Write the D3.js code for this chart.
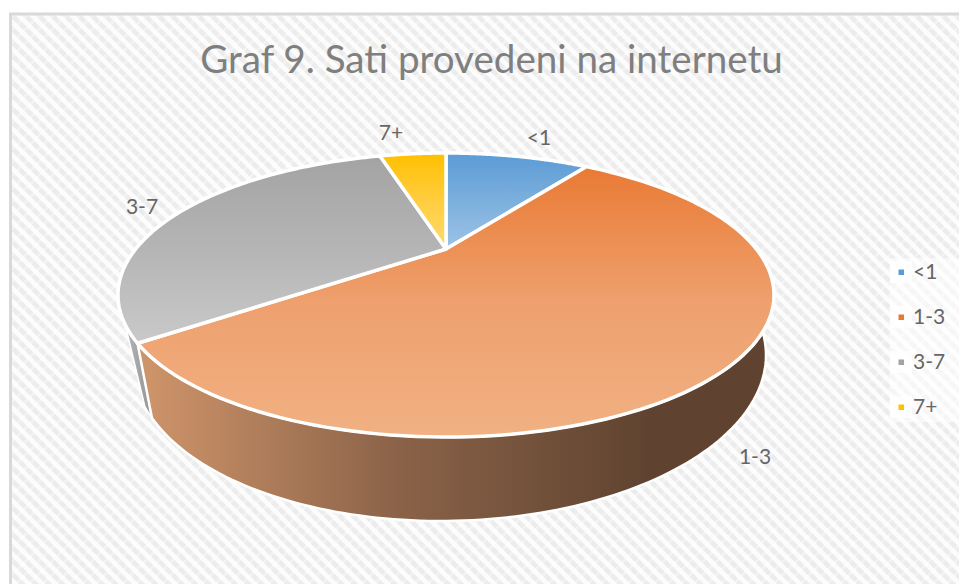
<!DOCTYPE html>
<html>
<head>
<meta charset="utf-8">
<script src="https://d3js.org/d3.v7.min.js"></script>
<style>
  html, body { margin: 0; padding: 0; background: #fff; }
  svg { display: block; }
  text { font-family: Lato, "Open Sans", sans-serif; fill: #666; }
</style>
</head>
<body>
<svg id="Vis" width="959" height="584"></svg>
<script>
const categories = ["<1", "1-3", "3-7", "7+"];
const values = [9.7, 55.1, 30.7, 4.5];
const titleText = "Graf 9. Sati provedeni na internetu";

const topColors = ["#5b9bd5", "#e97a34", "#a3a3a3", "#ffc000"];
const midColors = ["#7cafdd", "#eea06e", "#b5b5b5", "#ffcd40"];
const bottomColors = ["#9dc3e6", "#f1b183", "#c9c9c9", "#ffdb6c"];
const wallStops = ["#cd9369", "#8a6248", "#5f4330"];

const svg = d3.select("svg#Vis");
const defs = svg.append("defs");

/* BACKGROUND */
const hatch = defs.append("pattern")
  .attr("id", "hatch")
  .attr("patternUnits", "userSpaceOnUse")
  .attr("width", 9.4)
  .attr("height", 9.4)
  .attr("patternTransform", "rotate(45)");
hatch.append("rect").attr("width", 9.4).attr("height", 9.4).attr("fill", "#fcfcfc");
hatch.append("rect").attr("width", 9.4).attr("height", 4.7).attr("fill", "#ececec");
hatch.append("rect").attr("width", 2.4).attr("height", 9.4).attr("fill", "#fff").attr("opacity", 0.35);

svg.append("rect")
  .attr("x", 10.5).attr("y", 14)
  .attr("width", 960).attr("height", 600)
  .attr("fill", "url(#hatch)")
  .attr("stroke", "#d9d9d9")
  .attr("stroke-width", 3);

svg.append("text")
  .attr("x", 491.5).attr("y", 73)
  .attr("text-anchor", "middle")
  .attr("font-size", 38.6)
  .style("fill", "#7f7f7f")
  .text(titleText);

/* PIE GEOMETRY: a tilted disc seen in perspective */
const apex = { x: 446, y: 249 };
const persp = 0.324;
const discX = 310.3;
const discY = 127.1;

// rim at the bottom of the side wall
const rim = { x: 450, y: 360, a: 316, b: 161, shear: -0.015 };
const deg = Math.PI / 180;

function project(angle) {
  const w = 1 + persp * Math.cos(angle);
  return [
    apex.x + discX * Math.sin(angle) / w,
    apex.y - discY * Math.cos(angle) / w
  ];
}

function rimPoint(angle) {
  const x = rim.x + rim.a * Math.sin(angle);
  return [x, rim.y - rim.b * Math.cos(angle) + rim.shear * (x - apex.x)];
}

function sample(fn, a0, a1) {
  return d3.range(0, 121).map(i => fn(a0 + (a1 - a0) * i / 120));
}

const slices = d3.pie().sort(null).value(d => d)(values);
const line = d3.line();

/* GRADIENTS */
slices.forEach((s, i) => {
  const g = defs.append("linearGradient")
    .attr("id", "face" + i)
    .attr("x1", 0).attr("y1", 0).attr("x2", 0).attr("y2", 1);
  g.append("stop").attr("offset", 0).attr("stop-color", topColors[i]);
  g.append("stop").attr("offset", 0.5).attr("stop-color", midColors[i]);
  g.append("stop").attr("offset", 1).attr("stop-color", bottomColors[i]);
});

const wallGrad = defs.append("linearGradient")
  .attr("id", "wall")
  .attr("gradientUnits", "userSpaceOnUse")
  .attr("x1", 150).attr("y1", 0).attr("x2", 650).attr("y2", 0);
wallStops.forEach((c, i) => {
  wallGrad.append("stop").attr("offset", i / 2).attr("stop-color", c);
});

const grayGrad = defs.append("linearGradient")
  .attr("id", "wallGray")
  .attr("x1", 0).attr("y1", 0).attr("x2", 1).attr("y2", 0);
grayGrad.append("stop").attr("offset", 0).attr("stop-color", "#b5b5b5");
grayGrad.append("stop").attr("offset", 1).attr("stop-color", "#949494");

/* SIDE WALLS */
const walls = svg.append("g").attr("id", "walls");
const cornerRim = 250.6 * deg;

walls.append("path")
  .attr("d", line(
    sample(project, slices[2].startAngle, 240 * deg)
      .concat(sample(rimPoint, 255 * deg, cornerRim))) + "Z")
  .attr("fill", "url(#wallGray)")
  .attr("stroke", "#fff")
  .attr("stroke-width", 1.5)
  .attr("stroke-linejoin", "round");

walls.append("path")
  .attr("d", line(
    sample(project, slices[1].startAngle, slices[1].endAngle)
      .concat(sample(rimPoint, cornerRim, 60 * deg))) + "Z")
  .attr("fill", "url(#wall)")
  .attr("stroke", "#fff")
  .attr("stroke-width", 2.5)
  .attr("stroke-linejoin", "round");

/* TOP FACES */
svg.append("g").attr("id", "faces")
  .selectAll("path")
  .data(slices)
  .join("path")
    .attr("d", d => line([[apex.x, apex.y]].concat(sample(project, d.startAngle, d.endAngle))) + "Z")
    .attr("fill", (d, i) => "url(#face" + i + ")")
    .attr("stroke", "#fff")
    .attr("stroke-width", 3.5)
    .attr("stroke-linejoin", "round");

/* DATA LABELS */
const labelSpots = [[539, 138], [755, 457], [142, 207], [391, 133]];
svg.append("g").attr("id", "labels")
  .selectAll("text")
  .data(categories)
  .join("text")
    .attr("x", (d, i) => labelSpots[i][0])
    .attr("y", (d, i) => labelSpots[i][1])
    .attr("dy", "0.35em")
    .attr("text-anchor", "middle")
    .attr("font-size", 21)
    .text(d => d);

/* LEGEND */
const legendY = d3.scalePoint()
  .domain(categories)
  .range([272, 407]);
const legend = svg.append("g").attr("id", "legend");
legend.append("rect")
  .attr("x", 890).attr("y", 258)
  .attr("width", 69).attr("height", 164)
  .attr("fill", "#fff").attr("opacity", 0.55);
legend.selectAll("rect.backing")
  .data(categories)
  .join("rect")
    .attr("class", "backing")
    .attr("x", 890)
    .attr("y", d => legendY(d) - 11)
    .attr("width", 22).attr("height", 22)
    .attr("fill", "#fff").attr("opacity", 0.8);
legend.selectAll("rect.key")
  .data(categories)
  .join("rect")
    .attr("class", "key")
    .attr("x", 898.5)
    .attr("y", d => legendY(d) - 2.5)
    .attr("width", 5.5).attr("height", 5.5)
    .attr("fill", (d, i) => topColors[i]);
legend.selectAll("text")
  .data(categories)
  .join("text")
    .attr("x", 913)
    .attr("y", d => legendY(d))
    .attr("dy", "0.35em")
    .attr("font-size", 21)
    .text(d => d);
</script>
</body>
</html>
